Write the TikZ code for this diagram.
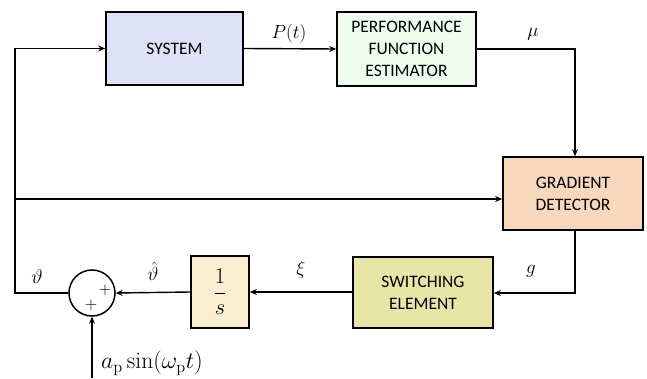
\documentclass[tikz,border=0pt]{standalone}
\usepackage{fontspec}
\setsansfont{Carlito}
\usetikzlibrary{arrows.meta}
\definecolor{sysc}{HTML}{DFE1F6}
\definecolor{pfec}{HTML}{EFFDEF}
\definecolor{gdc}{HTML}{F8D8BC}
\definecolor{swc}{HTML}{E8E6A6}
\definecolor{intc}{HTML}{FBEFD2}
\tikzset{
  blk/.style={draw=black, line width=1.7pt, inner sep=0pt, font=\sffamily\fontsize{17.5}{22}\selectfont, align=center},
  conn/.style={line width=1.4pt, -{Stealth[length=7pt,width=6pt]}},
  lbl/.style={font=\fontsize{17.28}{20}\selectfont, inner sep=0pt}
}
\begin{document}
\begin{tikzpicture}[x=1pt,y=1pt]
\useasboundingbox (0,0) rectangle (647,-379);
% blocks
\node[blk, fill=sysc, minimum width=137pt, minimum height=73pt] (sys) at (174.5,-48.5) {SYSTEM};
\node[blk, fill=pfec, minimum width=139pt, minimum height=74pt] (pfe) at (406.5,-49) {PERFORMANCE\\FUNCTION\\ESTIMATOR};
\node[blk, fill=gdc, minimum width=140pt, minimum height=73pt] (gd) at (573,-193.5) {GRADIENT\\DETECTOR};
\node[blk, fill=swc, minimum width=140pt, minimum height=71pt] (sw) at (423,-292.5) {SWITCHING\\ELEMENT};
\node[blk, fill=intc, minimum width=58pt, minimum height=72pt, font=\fontsize{17.28}{20}\selectfont] (int) at (220,-292) {\scalebox{1.3}{$\displaystyle\frac{1}{s}$}};
\node[draw, circle, line width=1.5pt, minimum size=46pt, inner sep=0pt] (sum) at (92,-293) {};
\node[font=\fontsize{17}{17}\selectfont, inner sep=0pt] (p1) at (105,-290) {$+$};
\node[font=\fontsize{17}{17}\selectfont, inner sep=0pt] (p2) at (91,-305) {$+$};
% coordinates
\coordinate (lc) at (15,-293);
\coordinate (lt) at (15,-48.5);
\coordinate (lm) at (15,-199);
\coordinate (mu) at (575,-49);
\coordinate (gc) at (575,-293);
\coordinate (inp) at (92,-378);
% connectors
\draw[conn] (sys.east) -- (pfe.west);
\draw[conn] (pfe.east) -- (mu) -- (gd.north -| mu);
\draw[conn] (gd.south -| gc) -- (gc) -- (sw.east |- gc);
\draw[conn] (sw.west |- int.east) -- (int.east);
\draw[conn] (int.west) -- (sum.east);
\draw[conn] (sum.west) -- (lc) -- (lt) -- (sys.west);
\draw[conn] (lm) -- (gd.west |- lm);
\draw[conn] (inp) -- (sum.south);
% labels
\node[lbl] (lp) at (289,-34) {\scalebox{1.1}{$P(t)$}};
\node[lbl] (lmu) at (533,-34) {\scalebox{1.1}{$\mu$}};
\node[lbl] (lg) at (531,-271) {\scalebox{1.1}{$g$}};
\node[lbl] (lxi) at (301,-270) {\scalebox{1.1}{$\xi$}};
\node[lbl] (lth) at (153,-271) {\scalebox{1.1}{$\hat{\vartheta}$}};
\node[lbl] (lv) at (37,-277) {\scalebox{1.15}{$\vartheta$}};
\node[lbl, anchor=west] (la) at (101,-363) {\scalebox{1.37}{$a_{\mathrm{p}}\sin(\omega_{\mathrm{p}}t)$}};
\end{tikzpicture}
\end{document}
